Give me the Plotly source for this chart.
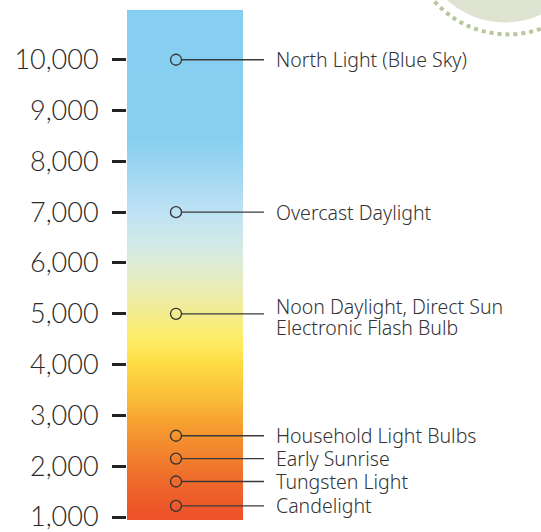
import numpy as np
import plotly.graph_objects as go

# ---- data ----
kelvin_ticks = [1000, 2000, 3000, 4000, 5000, 6000, 7000, 8000, 9000, 10000]
source_kelvin = [10000, 7000, 5000, 2600, 2150, 1700, 1220]
source_labels = [
    "North Light (Blue Sky)",
    "Overcast Daylight",
    "Noon Daylight, Direct Sun\nElectronic Flash Bulb",
    "Household Light Bulbs",
    "Early Sunrise",
    "Tungsten Light",
    "Candelight",
]
bar_range = [940, 10980]

# gradient stops (kelvin, colour) used to paint the bar
grad_kelvin = [940, 1275, 1863, 2451, 2941, 3431, 4020, 4510, 4980, 5588, 6275, 7000, 7647, 8431, 10980]
grad_colors = ["#ee4f28", "#ee5a2a", "#ef712c", "#f38c2e", "#f7a631", "#fbc13a", "#fedd43",
               "#fded68", "#f3ec8c", "#e8edbd", "#d5eae4", "#bee2f4", "#a5d8f2", "#88cfef", "#86cff0"]

# ---- style ----
FONT = "Noto Sans"
TICK_FONT = "Lato"
TXT = "#333333"
MARK_X = 49      # x (px from bar left) of marker
LINE_END = 137
LABEL_X = 147
BAR_W = 116
PLOT_W = 414
LINE_GAP = 21

lo, hi = bar_range
colorscale = [[(k - lo) / (hi - lo), c] for k, c in zip(grad_kelvin, grad_colors)]
n_rows = 500
y_edges = np.linspace(lo, hi, n_rows + 1)
z = [[(y_edges[i] + y_edges[i + 1]) / 2] for i in range(n_rows)]

fig = go.Figure()
fig.add_trace(go.Heatmap(
    x=[0, BAR_W], y=y_edges, z=z, colorscale=colorscale, zmin=lo, zmax=hi,
    showscale=False, hoverinfo="skip", zsmooth=False,
))

# connector lines
lx, ly = [], []
for k in source_kelvin:
    lx += [MARK_X + 5.5, LINE_END, None]
    ly += [k, k, None]
fig.add_trace(go.Scatter(x=lx, y=ly, mode="lines",
                         line=dict(color="#3a3a3a", width=1.3), hoverinfo="skip"))
fig.add_trace(go.Scatter(
    x=[MARK_X] * len(source_kelvin), y=source_kelvin, mode="markers",
    marker=dict(symbol="circle-open", size=11, color="#333333", line=dict(width=1.3)),
    hoverinfo="skip",
))

for k, lab in zip(source_kelvin, source_labels):
    lines = lab.split("\n")
    n = len(lines)
    for j, line in enumerate(lines):
        shift = 0 if n == 1 else (7 - LINE_GAP * j)
        fig.add_annotation(x=LABEL_X, y=k, text=line, showarrow=False,
                           xanchor="left", yanchor="middle", yshift=shift,
                           font=dict(family=FONT, size=19.5, color=TXT, weight=300))

# decorative corner circles
fig.add_shape(type="circle", xref="x", yref="paper", x0=292, x1=464, y0=0.9577, y1=1.281,
              fillcolor="#dfe3d1", line=dict(width=0), layer="below")
fig.add_shape(type="circle", xref="x", yref="paper", x0=283, x1=479, y0=0.9351, y1=1.3036,
              fillcolor="rgba(0,0,0,0)", line=dict(color="#b8c69b", width=4, dash="4px,4px"),
              layer="below")

fig.update_layout(
    width=541, height=532,
    margin=dict(l=127, r=0, t=0, b=0),
    paper_bgcolor="white", plot_bgcolor="white",
    showlegend=False,
    xaxis=dict(range=[0, PLOT_W], visible=False, fixedrange=True),
    yaxis=dict(
        range=[745, 11176], tickvals=kelvin_ticks, tickformat=",",
        showgrid=False, zeroline=False, showline=False,
        ticks="outside", ticklen=14, tickwidth=3, tickcolor="#222222",
        ticklabelstandoff=8, ticklabeloverflow="allow", fixedrange=True,
        tickfont=dict(family=TICK_FONT, size=27, color="#2a2a2a", weight=300),
    ),
)

fig.write_html("out.html", config={"displayModeBar": False},
               post_script="document.body.style.margin='0';document.body.style.overflow='hidden';")
